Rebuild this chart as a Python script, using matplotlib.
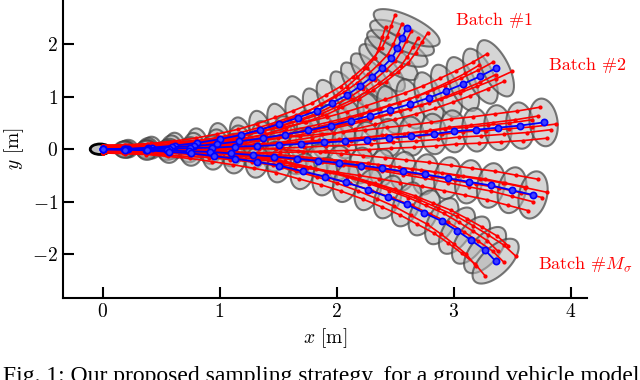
import numpy as np
import matplotlib
matplotlib.use("Agg")
import matplotlib.pyplot as plt
from matplotlib.patches import Polygon, Ellipse

plt.rcParams['font.family'] = 'serif'
plt.rcParams['font.serif'] = ['cmr10', 'DejaVu Serif']
plt.rcParams['mathtext.fontset'] = 'cm'
plt.rcParams['axes.formatter.use_mathtext'] = True
plt.rcParams['font.size'] = 13

# Mean trajectory of each batch (blue)
b1_x = [0.00, 0.22, 0.42, 0.62, 0.81, 1.00, 1.18, 1.35, 1.51, 1.67, 1.83, 1.96, 2.09, 2.20, 2.30, 2.39, 2.47, 2.52, 2.56, 2.60]
b1_y = [0.00, 0.01, 0.03, 0.07, 0.12, 0.19, 0.27, 0.37, 0.48, 0.60, 0.73, 0.88, 1.03, 1.20, 1.37, 1.55, 1.73, 1.92, 2.12, 2.31]

b2_x = [0.00, 0.20, 0.39, 0.59, 0.78, 0.98, 1.17, 1.37, 1.56, 1.76, 1.95, 2.12, 2.29, 2.46, 2.63, 2.79, 2.94, 3.08, 3.23, 3.36]
b2_y = [0.00, 0.00, 0.02, 0.04, 0.06, 0.10, 0.15, 0.21, 0.28, 0.36, 0.45, 0.54, 0.64, 0.75, 0.86, 0.98, 1.11, 1.24, 1.39, 1.54]

b3_x = [0.00, 0.19, 0.38, 0.57, 0.75, 0.94, 1.13, 1.32, 1.51, 1.70, 1.89, 2.07, 2.26, 2.45, 2.64, 2.83, 3.00, 3.19, 3.38, 3.57, 3.77]
b3_y = [0.00, 0.00, 0.01, 0.01, 0.02, 0.03, 0.05, 0.06, 0.08, 0.10, 0.13, 0.15, 0.18, 0.22, 0.25, 0.29, 0.34, 0.37, 0.41, 0.45, 0.51]

b4_x = [0.00, 0.18, 0.37, 0.55, 0.74, 0.92, 1.10, 1.29, 1.47, 1.66, 1.84, 2.02, 2.21, 2.39, 2.57, 2.76, 2.95, 3.13, 3.32, 3.50, 3.68]
b4_y = [0.00, 0.00, -0.01, -0.02, -0.04, -0.05, -0.08, -0.11, -0.14, -0.18, -0.22, -0.26, -0.31, -0.36, -0.42, -0.48, -0.55, -0.62, -0.69, -0.78, -0.87]

b5_x = [0.00, 0.19, 0.38, 0.57, 0.76, 0.95, 1.13, 1.32, 1.51, 1.71, 1.90, 2.08, 2.27, 2.44, 2.60, 2.75, 2.90, 3.03, 3.15, 3.27, 3.36]
b5_y = [0.00, -0.01, -0.02, -0.05, -0.08, -0.13, -0.18, -0.24, -0.31, -0.42, -0.52, -0.63, -0.77, -0.91, -1.05, -1.21, -1.37, -1.55, -1.73, -1.92, -2.13]

# red samples: start offset in y, and end point relative to the batch mean end
r_y0 = [0.07, -0.05, 0.03, -0.02, 0.05, -0.07]
r1_dx = [-0.10, -0.18, -0.04, 0.04, 0.10, 0.18]
r1_dy = [0.24, 0.02, 0.08, -0.06, -0.19, -0.09]
r2_dx = [-0.07, -0.14, -0.02, 0.00, 0.14, 0.07]
r2_dy = [0.28, 0.06, 0.12, -0.12, -0.06, -0.25]
r3_dx = [-0.03, -0.05, -0.10, 0.06, 0.11, 0.03]
r3_dy = [0.29, 0.12, 0.05, -0.14, -0.03, -0.30]
r4_dx = [0.04, -0.06, 0.12, 0.08, 0.00, -0.04]
r4_dy = [0.30, 0.15, 0.05, -0.05, -0.13, -0.30]
r5_dx = [0.17, 0.11, 0.02, 0.07, -0.17, -0.09]
r5_dy = [0.10, 0.29, 0.19, -0.02, -0.09, -0.28]

# ellipse semi-axes in pixels at the last step (across track, along track)
lat_end = [36, 31, 24, 24, 29]
lon_end = [12, 13, 14, 14, 14]

labels = ["Batch #1", "Batch #2", r"Batch #$M_\sigma$"]
label_xy = [(3.02, 2.45), (3.82, 1.60), (3.72, -2.19)]

batches = [(b1_x, b1_y, r1_dx, r1_dy), (b2_x, b2_y, r2_dx, r2_dy),
           (b3_x, b3_y, r3_dx, r3_dy), (b4_x, b4_y, r4_dx, r4_dy),
           (b5_x, b5_y, r5_dx, r5_dy)]

fig = plt.figure(figsize=(6.4, 3.8), dpi=100)
ax = fig.add_axes([0.098, 0.216, 0.819, 0.784])
ax.set_xlim(-0.34, 4.14)
ax.set_ylim(-2.83, 2.84)

# pixels per data unit, so the ellipses sit square to the path on screen
p0 = ax.transData.transform((0, 0))
sx = ax.transData.transform((1, 0))[0] - p0[0]
sy = ax.transData.transform((0, 1))[1] - p0[1]

t = np.linspace(0, 2 * np.pi, 60)
for k, (bx, by, rdx, rdy) in enumerate(batches):
    bx = np.array(bx)
    by = np.array(by)
    n = len(bx)
    hx = np.gradient(bx * sx)
    hy = np.gradient(by * sy)
    ang = np.arctan2(hy, hx)
    for i in range(1, n):
        f = (i / (n - 1)) ** 0.8
        a = 9 + (lon_end[k] - 9) * f
        b = 6 + (lat_end[k] - 6) * f
        u = a * np.cos(t)
        v = b * np.sin(t)
        ex = bx[i] + (u * np.cos(ang[i]) - v * np.sin(ang[i])) / sx
        ey = by[i] + (u * np.sin(ang[i]) + v * np.cos(ang[i])) / sy
        ax.add_patch(Polygon(np.column_stack([ex, ey]), closed=True,
                             facecolor=(0.70, 0.70, 0.70, 0.55),
                             edgecolor=(0.25, 0.25, 0.25, 0.7), lw=1.5, zorder=1))

ax.add_patch(Ellipse((-0.02, 0), 0.17, 0.2, facecolor=(0.75, 0.75, 0.75),
                     edgecolor='black', lw=2, zorder=1.5))

# red samples
for k, (bx, by, rdx, rdy) in enumerate(batches):
    bx = np.array(bx)
    by = np.array(by)
    s = np.linspace(0, 1, len(bx)) ** 1.3
    for dx, dy, y0 in zip(rdx, rdy, r_y0):
        ax.plot(bx + dx * s, by + y0 + (dy - y0) * s, '-', color='red', lw=1.2,
                marker='o', ms=2, zorder=2)

# mean trajectories
for k, (bx, by, rdx, rdy) in enumerate(batches):
    ax.plot(bx, by, '-', color='blue', lw=1.3, marker='o', ms=4.5,
            mfc=(0.25, 0.25, 1.0), mec='blue', mew=1.2, zorder=3)

for txt, (tx, ty) in zip(labels, label_xy):
    ax.text(tx, ty, txt, color='red', fontsize=13, va='center', ha='left')

ax.set_xticks([0, 1, 2, 3, 4])
ax.set_yticks([-2, -1, 0, 1, 2])
ax.set_xlabel(r"$x$ [m]", fontsize=14)
ax.set_ylabel(r"$y$ [m]", fontsize=14)
ax.spines['top'].set_visible(False)
ax.spines['right'].set_visible(False)
ax.spines['left'].set_linewidth(1.5)
ax.spines['bottom'].set_linewidth(1.5)
ax.tick_params(direction='in', length=8, width=1.5, labelsize=14)

fig.text(0.005, -0.006, "Fig. 1: Our proposed sampling strategy, for a ground vehicle model",
         fontsize=17, family='Liberation Serif', va='baseline', ha='left')

fig.savefig("out.png", dpi=100)
